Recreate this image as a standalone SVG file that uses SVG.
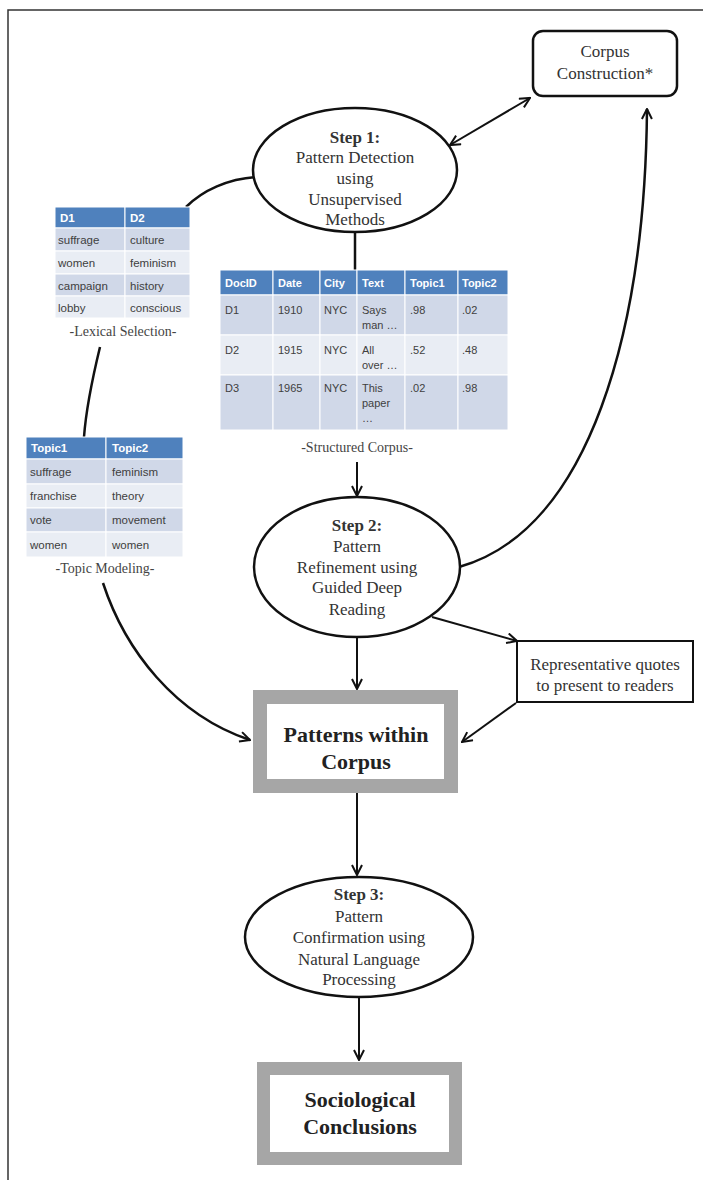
<svg xmlns="http://www.w3.org/2000/svg" width="703" height="1180" viewBox="0 0 703 1180">
<style>
.serif{font-family:"Liberation Serif","Times New Roman",serif;fill:#333;text-anchor:middle}
.lbl{font-size:17px}
.bold{font-weight:bold}
.big{font-size:22px;font-weight:bold;fill:#222}
.cap{font-size:14px;fill:#444}
.tb{font-family:"Liberation Sans",Arial,sans-serif;fill:#404040}
.th{font-family:"Liberation Sans",Arial,sans-serif;fill:#fff;font-weight:bold}
.hdr{fill:#4F81BD}
.r1{fill:#D0D8E8}
.r2{fill:#E9EDF4}
.cell{stroke:#fff;stroke-width:1}
.node{fill:#fff;stroke:#111;stroke-width:2.5}
.gbox{fill:#fff;stroke:#A6A6A6}
.conn{fill:none;stroke:#111;stroke-width:2.5}
.thin{fill:none;stroke:#111;stroke-width:2}
</style>
<defs>
<marker id="arr" viewBox="0 0 12 12" refX="11" refY="6" markerWidth="12" markerHeight="12" markerUnits="userSpaceOnUse" orient="auto-start-reverse">
<path d="M1,1 L11,6 L1,11" fill="none" stroke="#111" stroke-width="2"/>
</marker>
</defs>
<rect width="703" height="1180" fill="#fff"/>
<path d="M8,1180 L8,10 L703,10" fill="none" stroke="#333" stroke-width="1.5"/>

<g id="connectors">
<path class="thin" d="M450,145 L530,98" marker-start="url(#arr)" marker-end="url(#arr)"/>
<path class="conn" d="M256,177 C228,179 203,190 186,207"/>
<path class="conn" d="M100,347 C92,380 86,410 84,437"/>
<path class="conn" d="M103,583 C125,650 175,715 250,740" marker-end="url(#arr)"/>
<path class="conn" stroke-width="3" d="M355,232 L355,270"/>
<path class="thin" d="M357,462 L357,496" marker-end="url(#arr)"/>
<path class="conn" d="M459,567 C590,530 645,330 647,109" marker-end="url(#arr)"/>
<path class="thin" d="M432,617 L517,641" marker-end="url(#arr)"/>
<path class="thin" d="M357,637 L357,689" marker-end="url(#arr)"/>
<path class="thin" d="M516,703 L462,742" marker-end="url(#arr)"/>
<path class="thin" d="M357,793 L357,875" marker-end="url(#arr)"/>
<path class="thin" d="M359,997 L359,1060" marker-end="url(#arr)"/>
</g>

<g id="corpus-construction">
<rect class="node" x="533" y="31" width="144" height="65" rx="10"/>
<text class="serif lbl" x="605" y="57" fill="#555">Corpus</text>
<text class="serif lbl" x="605" y="79">Construction*</text>
</g>

<g id="step1">
<ellipse class="node" cx="355" cy="170" rx="102" ry="62"/>
<text class="serif lbl bold" x="355" y="143">Step 1:</text>
<text class="serif lbl" x="355" y="163">Pattern Detection</text>
<text class="serif lbl" x="355" y="184">using</text>
<text class="serif lbl" x="355" y="205">Unsupervised</text>
<text class="serif lbl" x="355" y="225">Methods</text>
</g>

<g id="lexical-selection">
<rect class="hdr cell" x="55" y="207" width="70" height="21"/>
<rect class="hdr cell" x="125" y="207" width="65" height="21"/>
<rect class="r1 cell" x="55" y="228" width="70" height="23"/>
<rect class="r1 cell" x="125" y="228" width="65" height="23"/>
<rect class="r2 cell" x="55" y="251" width="70" height="23"/>
<rect class="r2 cell" x="125" y="251" width="65" height="23"/>
<rect class="r1 cell" x="55" y="274" width="70" height="22"/>
<rect class="r1 cell" x="125" y="274" width="65" height="22"/>
<rect class="r2 cell" x="55" y="296" width="70" height="22"/>
<rect class="r2 cell" x="125" y="296" width="65" height="22"/>
<g font-size="11.5">
<text class="th" x="60" y="222">D1</text>
<text class="th" x="130" y="222">D2</text>
<text class="tb" x="58" y="244">suffrage</text>
<text class="tb" x="130" y="244">culture</text>
<text class="tb" x="58" y="267">women</text>
<text class="tb" x="130" y="267">feminism</text>
<text class="tb" x="58" y="290">campaign</text>
<text class="tb" x="130" y="290">history</text>
<text class="tb" x="58" y="312">lobby</text>
<text class="tb" x="130" y="312">conscious</text>
</g>
<text class="serif cap" x="123" y="336">-Lexical Selection-</text>
</g>

<g id="topic-modeling">
<rect class="hdr cell" x="26" y="437" width="80" height="22"/>
<rect class="hdr cell" x="106" y="437" width="77" height="22"/>
<rect class="r1 cell" x="26" y="459" width="80" height="25"/>
<rect class="r1 cell" x="106" y="459" width="77" height="25"/>
<rect class="r2 cell" x="26" y="484" width="80" height="24"/>
<rect class="r2 cell" x="106" y="484" width="77" height="24"/>
<rect class="r1 cell" x="26" y="508" width="80" height="24"/>
<rect class="r1 cell" x="106" y="508" width="77" height="24"/>
<rect class="r2 cell" x="26" y="532" width="80" height="25"/>
<rect class="r2 cell" x="106" y="532" width="77" height="25"/>
<g font-size="11.5">
<text class="th" x="31" y="452">Topic1</text>
<text class="th" x="112" y="452">Topic2</text>
<text class="tb" x="30" y="476">suffrage</text>
<text class="tb" x="112" y="476">feminism</text>
<text class="tb" x="30" y="500">franchise</text>
<text class="tb" x="112" y="500">theory</text>
<text class="tb" x="30" y="524">vote</text>
<text class="tb" x="112" y="524">movement</text>
<text class="tb" x="30" y="549">women</text>
<text class="tb" x="112" y="549">women</text>
</g>
<text class="serif cap" x="105" y="573">-Topic Modeling-</text>
</g>

<g id="structured-corpus">
<rect class="hdr cell" x="220" y="270" width="53" height="25"/>
<rect class="hdr cell" x="273" y="270" width="47" height="25"/>
<rect class="hdr cell" x="320" y="270" width="37" height="25"/>
<rect class="hdr cell" x="357" y="270" width="48" height="25"/>
<rect class="hdr cell" x="405" y="270" width="53" height="25"/>
<rect class="hdr cell" x="458" y="270" width="50" height="25"/>
<rect class="r1 cell" x="220" y="295" width="53" height="40"/>
<rect class="r1 cell" x="273" y="295" width="47" height="40"/>
<rect class="r1 cell" x="320" y="295" width="37" height="40"/>
<rect class="r1 cell" x="357" y="295" width="48" height="40"/>
<rect class="r1 cell" x="405" y="295" width="53" height="40"/>
<rect class="r1 cell" x="458" y="295" width="50" height="40"/>
<rect class="r2 cell" x="220" y="335" width="53" height="40"/>
<rect class="r2 cell" x="273" y="335" width="47" height="40"/>
<rect class="r2 cell" x="320" y="335" width="37" height="40"/>
<rect class="r2 cell" x="357" y="335" width="48" height="40"/>
<rect class="r2 cell" x="405" y="335" width="53" height="40"/>
<rect class="r2 cell" x="458" y="335" width="50" height="40"/>
<rect class="r1 cell" x="220" y="375" width="53" height="55"/>
<rect class="r1 cell" x="273" y="375" width="47" height="55"/>
<rect class="r1 cell" x="320" y="375" width="37" height="55"/>
<rect class="r1 cell" x="357" y="375" width="48" height="55"/>
<rect class="r1 cell" x="405" y="375" width="53" height="55"/>
<rect class="r1 cell" x="458" y="375" width="50" height="55"/>
<g font-size="11">
<text class="th" x="225" y="287">DocID</text>
<text class="th" x="278" y="287">Date</text>
<text class="th" x="324" y="287">City</text>
<text class="th" x="362" y="287">Text</text>
<text class="th" x="410" y="287">Topic1</text>
<text class="th" x="462" y="287">Topic2</text>
<text class="tb" x="225" y="314">D1</text>
<text class="tb" x="278" y="314">1910</text>
<text class="tb" x="324" y="314">NYC</text>
<text class="tb" x="362" y="314">Says</text>
<text class="tb" x="362" y="329">man …</text>
<text class="tb" x="410" y="314">.98</text>
<text class="tb" x="462" y="314">.02</text>
<text class="tb" x="225" y="354">D2</text>
<text class="tb" x="278" y="354">1915</text>
<text class="tb" x="324" y="354">NYC</text>
<text class="tb" x="362" y="354">All</text>
<text class="tb" x="362" y="369">over …</text>
<text class="tb" x="410" y="354">.52</text>
<text class="tb" x="462" y="354">.48</text>
<text class="tb" x="225" y="392">D3</text>
<text class="tb" x="278" y="392">1965</text>
<text class="tb" x="324" y="392">NYC</text>
<text class="tb" x="362" y="392">This</text>
<text class="tb" x="362" y="407">paper</text>
<text class="tb" x="362" y="422">…</text>
<text class="tb" x="410" y="392">.02</text>
<text class="tb" x="462" y="392">.98</text>
</g>
<text class="serif cap" x="357" y="452">-Structured Corpus-</text>
</g>

<g id="step2">
<ellipse class="node" cx="357" cy="567" rx="103" ry="70"/>
<text class="serif lbl bold" x="357" y="531">Step 2:</text>
<text class="serif lbl" x="357" y="552">Pattern</text>
<text class="serif lbl" x="357" y="573">Refinement using</text>
<text class="serif lbl" x="357" y="593">Guided Deep</text>
<text class="serif lbl" x="357" y="615">Reading</text>
</g>

<g id="representative-quotes">
<rect x="517" y="641" width="176" height="61" fill="#fff" stroke="#111" stroke-width="2"/>
<text class="serif lbl" x="605" y="670">Representative quotes</text>
<text class="serif lbl" x="605" y="691">to present to readers</text>
</g>

<g id="patterns-within-corpus">
<rect class="gbox" x="260" y="697" width="191" height="89" stroke-width="14"/>
<text class="serif big" x="356" y="742">Patterns within</text>
<text class="serif big" x="356" y="769">Corpus</text>
</g>

<g id="step3">
<ellipse class="node" cx="359" cy="937" rx="114" ry="60"/>
<text class="serif lbl bold" x="359" y="900">Step 3:</text>
<text class="serif lbl" x="359" y="922">Pattern</text>
<text class="serif lbl" x="359" y="943">Confirmation using</text>
<text class="serif lbl" x="359" y="965">Natural Language</text>
<text class="serif lbl" x="359" y="985">Processing</text>
</g>

<g id="sociological-conclusions">
<rect class="gbox" x="263.5" y="1068.5" width="192" height="90" stroke-width="13"/>
<text class="serif big" x="360" y="1107">Sociological</text>
<text class="serif big" x="360" y="1134">Conclusions</text>
</g>
</svg>
